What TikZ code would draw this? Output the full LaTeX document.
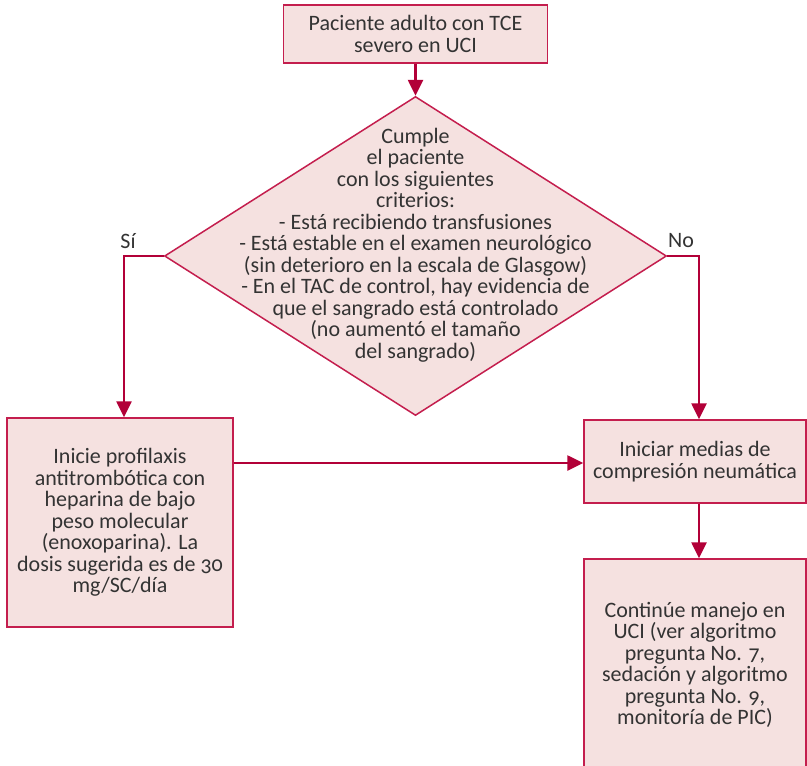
\documentclass[tikz,border=0pt]{standalone}
\usepackage{fontspec}
\setmainfont[Numbers=OldStyle]{Carlito}
\usetikzlibrary{shapes.geometric,arrows.meta}
\definecolor{borde}{RGB}{196,30,78}
\definecolor{linea}{RGB}{178,0,56}
\definecolor{relleno}{RGB}{245,225,224}
\definecolor{texto}{RGB}{51,51,51}
\begin{document}
\begin{tikzpicture}[x=1pt, y=-1pt]
			\tikzset{caja/.style={rectangle, draw=borde, fill=relleno, line width=1.5pt, inner sep=0pt, align=center, text=texto, font=\fontsize{22}{21.5}\selectfont},
				rombo/.style={diamond, draw=borde, fill=relleno, line width=1.5pt, inner sep=0pt, minimum width=502pt, minimum height=319pt},
				flecha/.style={draw=linea, line width=2.6pt, -{Triangle[width=15pt, length=16pt]}},
				etiqueta/.style={text=texto, font=\fontsize{22}{21.5}\selectfont}};

			\useasboundingbox (0,0) rectangle (807,766);
			\clip (0,0) rectangle (807,766);

			\node[caja, minimum width=264pt, minimum height=58pt] (inicio) at (415.5, 34) {Paciente adulto con TCE\\severo en UCI};
			\node[rombo] (criterios) at (415.5, 256) {};
			\node[etiqueta, align=center] (pregunta) at (415.5, 245) {Cumple\\el paciente\\con los siguientes\\criterios:\\- Está recibiendo transfusiones\\- Está estable en el examen neurológico\\(sin deterioro en la escala de Glasgow)\\- En el TAC de control, hay evidencia de\\que el sangrado está controlado\\(no aumentó el tamaño\\del sangrado)};
			\node[caja, minimum width=226pt, minimum height=209pt] (profilaxis) at (120, 522.5) {Inicie profilaxis\\antitrombótica con\\heparina de bajo\\peso molecular\\(enoxoparina). La\\dosis sugerida es de 30\\mg/SC/día};
			\node[caja, minimum width=222pt, minimum height=83pt] (medias) at (695, 461.5) {Iniciar medias de\\compresión neumática};
			\node[caja, minimum width=222pt, minimum height=212pt] (manejo) at (695, 665) {Continúe manejo en\\UCI (ver algoritmo\\pregunta No. 7,\\sedación y algoritmo\\pregunta No. 9,\\monitoría de PIC)};

			\coordinate (codoSi) at (124, 256);
			\coordinate (codoNo) at (699, 256);
			\node[etiqueta] (si) at (128, 241) {Sí};
			\node[etiqueta] (no) at (681, 241) {No};

			\draw[flecha] (inicio) -- (criterios.north);
			\draw[flecha] (criterios.west) -- (codoSi) -- (codoSi |- profilaxis.north);
			\draw[flecha] (criterios.east) -- (codoNo) -- (codoNo |- medias.north);
			\draw[flecha] (profilaxis.east |- 0,463) -- (medias.west |- 0,463);
			\draw[flecha] (codoNo |- medias.south) -- (codoNo |- manejo.north);

		\end{tikzpicture}
\end{document}
